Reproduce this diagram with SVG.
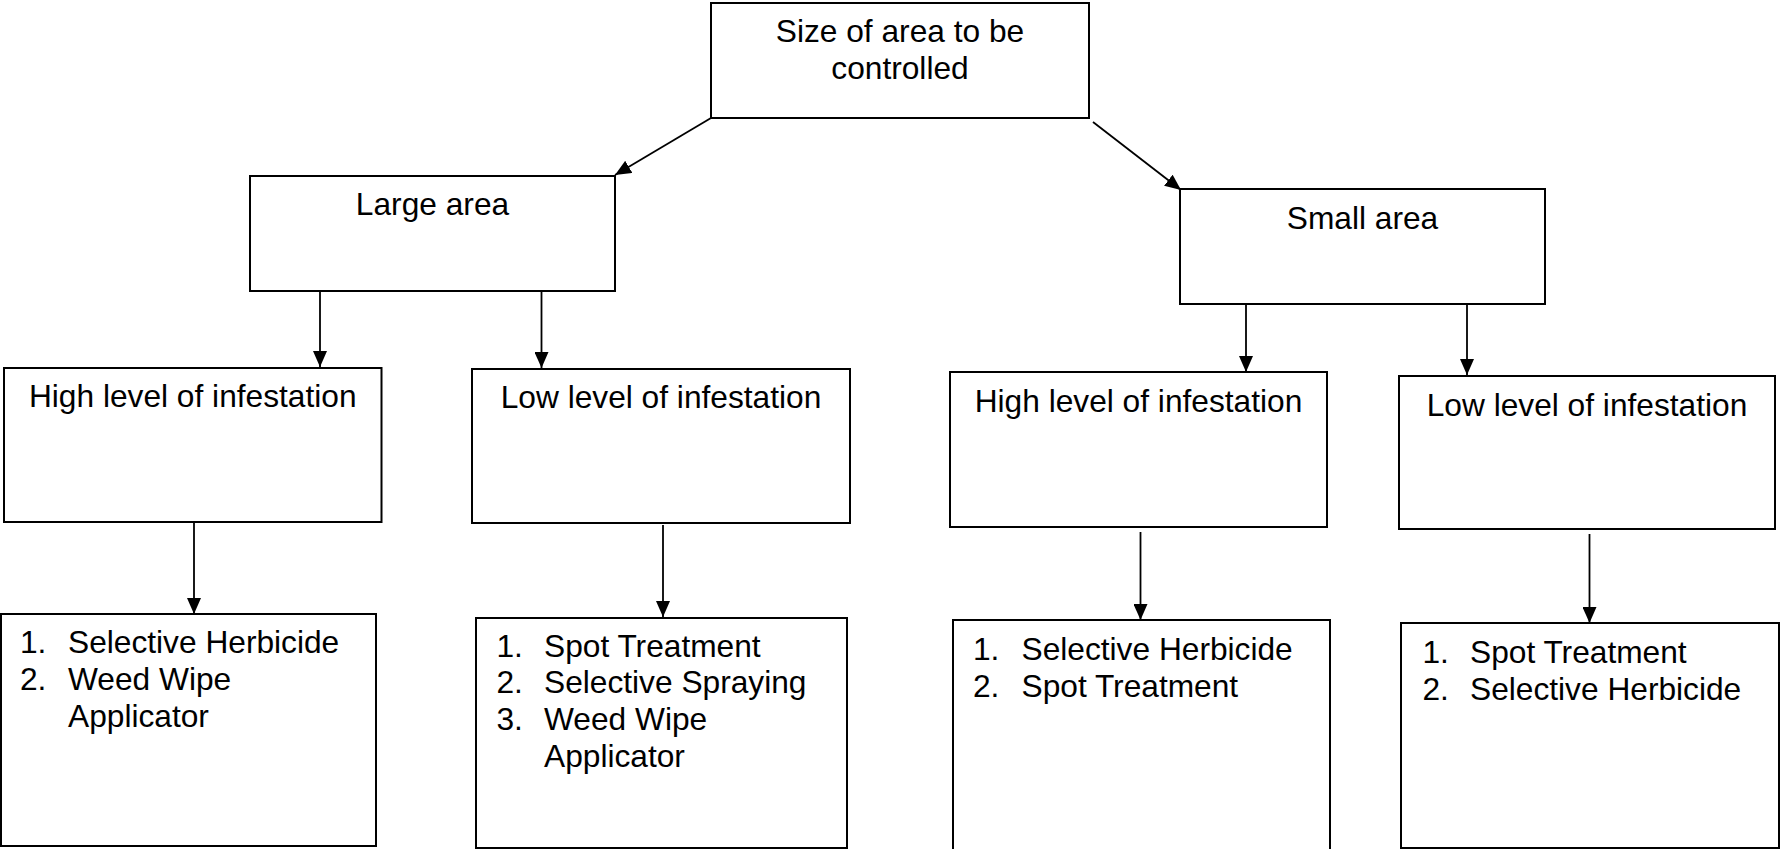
<svg xmlns="http://www.w3.org/2000/svg" width="1781" height="849" viewBox="0 0 1781 849">
<style>
.box{fill:#fff;stroke:#000;stroke-width:2}
.t{font-family:"Liberation Sans",Arial,sans-serif;font-size:31.7px;fill:#000}
.c{text-anchor:middle}
.ln{stroke:#000;stroke-width:1.8;fill:none}
</style>
<defs>
<marker id="ah" viewBox="0 0 16 14" refX="16" refY="7" markerWidth="16" markerHeight="14" markerUnits="userSpaceOnUse" orient="auto">
<path d="M0,0 L16,7 L0,14 Z" fill="#000"/>
</marker>
</defs>
<rect width="1781" height="849" fill="#fff"/>
<g id="connectors">
<line class="ln" x1="711" y1="118" x2="615" y2="175" marker-end="url(#ah)"/>
<line class="ln" x1="1093" y1="122" x2="1181" y2="190" marker-end="url(#ah)"/>
<line class="ln" x1="320" y1="291" x2="320" y2="367" marker-end="url(#ah)"/>
<line class="ln" x1="541.5" y1="291" x2="541.5" y2="368" marker-end="url(#ah)"/>
<line class="ln" x1="1246" y1="304" x2="1246" y2="372" marker-end="url(#ah)"/>
<line class="ln" x1="1467" y1="304" x2="1467" y2="375" marker-end="url(#ah)"/>
<line class="ln" x1="194" y1="522" x2="194" y2="614" marker-end="url(#ah)"/>
<line class="ln" x1="663" y1="525" x2="663" y2="617" marker-end="url(#ah)"/>
<line class="ln" x1="1140.5" y1="532" x2="1140.5" y2="620" marker-end="url(#ah)"/>
<line class="ln" x1="1589.5" y1="534" x2="1589.5" y2="623" marker-end="url(#ah)"/>
</g>
<g id="root">
<rect class="box" x="711" y="3" width="378" height="115"/>
<text class="t c" x="900" y="42">Size of area to be</text>
<text class="t c" x="900" y="79">controlled</text>
</g>
<g id="large">
<rect class="box" x="250" y="176" width="365" height="115"/>
<text class="t c" x="432.5" y="215">Large area</text>
</g>
<g id="small">
<rect class="box" x="1180" y="189" width="365" height="115"/>
<text class="t c" x="1362.5" y="229">Small area</text>
</g>
<g id="high-large">
<rect class="box" x="4" y="368" width="377.5" height="154"/>
<text class="t c" x="192.75" y="407">High level of infestation</text>
</g>
<g id="low-large">
<rect class="box" x="472" y="369" width="378" height="154"/>
<text class="t c" x="661" y="408">Low level of infestation</text>
</g>
<g id="high-small">
<rect class="box" x="950" y="372" width="377" height="155"/>
<text class="t c" x="1138.5" y="412">High level of infestation</text>
</g>
<g id="low-small">
<rect class="box" x="1399" y="376" width="376" height="153"/>
<text class="t c" x="1587" y="416">Low level of infestation</text>
</g>
<g id="res-high-large">
<rect class="box" x="1" y="614" width="375" height="232"/>
<text class="t" x="20" y="653">1.</text><text class="t" x="68" y="653">Selective Herbicide</text>
<text class="t" x="20" y="690">2.</text><text class="t" x="68" y="690">Weed Wipe</text>
<text class="t" x="68" y="727">Applicator</text>
</g>
<g id="res-low-large">
<rect class="box" x="476" y="618" width="371" height="230"/>
<text class="t" x="496.5" y="657">1.</text><text class="t" x="544" y="657">Spot Treatment</text>
<text class="t" x="496.5" y="693">2.</text><text class="t" x="544" y="693">Selective Spraying</text>
<text class="t" x="496.5" y="730">3.</text><text class="t" x="544" y="730">Weed Wipe</text>
<text class="t" x="544" y="767">Applicator</text>
</g>
<g id="res-high-small">
<rect class="box" x="953" y="620" width="377" height="232"/>
<text class="t" x="973" y="660">1.</text><text class="t" x="1021.5" y="660">Selective Herbicide</text>
<text class="t" x="973" y="697">2.</text><text class="t" x="1021.5" y="697">Spot Treatment</text>
</g>
<g id="res-low-small">
<rect class="box" x="1401" y="623" width="378" height="225"/>
<text class="t" x="1422.5" y="663">1.</text><text class="t" x="1470" y="663">Spot Treatment</text>
<text class="t" x="1422.5" y="700">2.</text><text class="t" x="1470" y="700">Selective Herbicide</text>
</g>
</svg>
